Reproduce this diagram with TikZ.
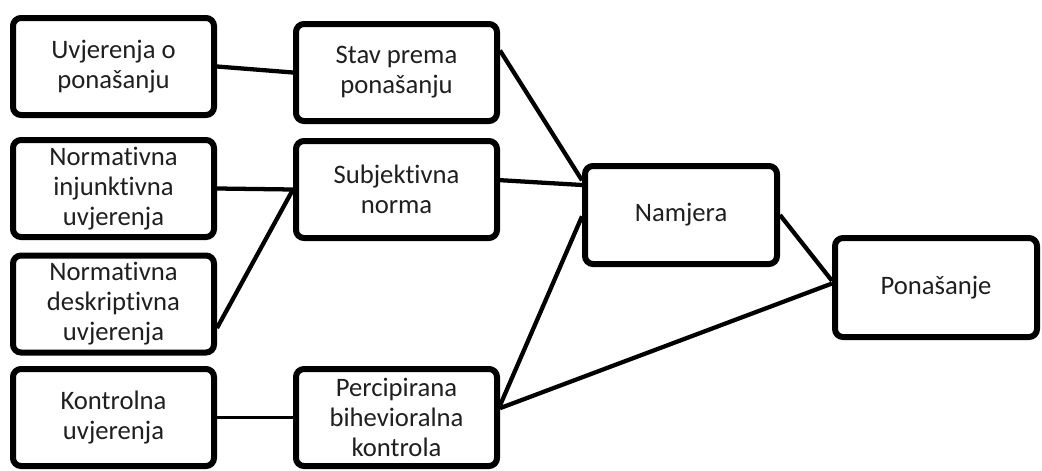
\documentclass[tikz,border=0pt]{standalone}
\usepackage{fontspec}
\setmainfont{Carlito}[RawFeature={-liga;-dlig}]
\usetikzlibrary{shadows}
\begin{document}
\begin{tikzpicture}[x=0.75pt,y=-0.75pt,
  box/.style={draw=black, line width=4.5pt, rounded corners=6pt, fill=white,
    minimum width=201*0.75pt, minimum height=97*0.75pt, inner sep=1pt,
    align=center, font=\fontsize{20}{22.5}\selectfont, text=black!88,
    drop shadow={shadow xshift=1.2pt, shadow yshift=-1.2pt, opacity=0.35}},
  link/.style={line width=3.2pt},
  thinlink/.style={line width=2.4pt}]
\useasboundingbox (0,0) rectangle (1042,471);
\node[box] (u1) at (113.5,66.5) {Uvjerenja o\\ponašanju};
\node[box] (ni) at (113.5,188.5) {Normativna\\injunktivna\\uvjerenja};
\node[box] (nd) at (113.5,304) {Normativna\\deskriptivna\\uvjerenja};
\node[box] (ku) at (113.5,417.5) {Kontrolna\\uvjerenja};
\node[box] (stav) at (396.5,72.5) {Stav prema\\ponašanju};
\node[box] (subj) at (396.5,189.5) {Subjektivna\\norma};
\node[box] (perc) at (396.5,417.5) {Percipirana\\bihevioralna\\kontrola};
\node[box, minimum width=192*0.75pt, minimum height=98*0.75pt] (nam) at (681,215) {Namjera};
\node[box, minimum width=202*0.75pt, minimum height=99*0.75pt] (pon) at (936,287.5) {Ponašanje};
\draw[link] (u1.east) -- (stav.west);
\draw[link] (ni.east) -- (subj.west);
\draw[link] ([yshift=-18pt]nd.east) -- (subj.west);
\draw[thinlink] (ku.east) -- (perc.west);
\draw[link] ([yshift=16.5pt]stav.east) -- ([yshift=26pt]nam.west);
\draw[link] ([yshift=7pt]subj.east) -- ([yshift=22.5pt]nam.west);
\draw[link] ([yshift=9pt]perc.east) -- ([yshift=-1pt]nam.west);
\draw[link] ([yshift=7pt]perc.east) -- ([yshift=3pt]pon.west);
\draw[link] (nam.east) -- ([yshift=5pt]pon.west);
\end{tikzpicture}
\end{document}
